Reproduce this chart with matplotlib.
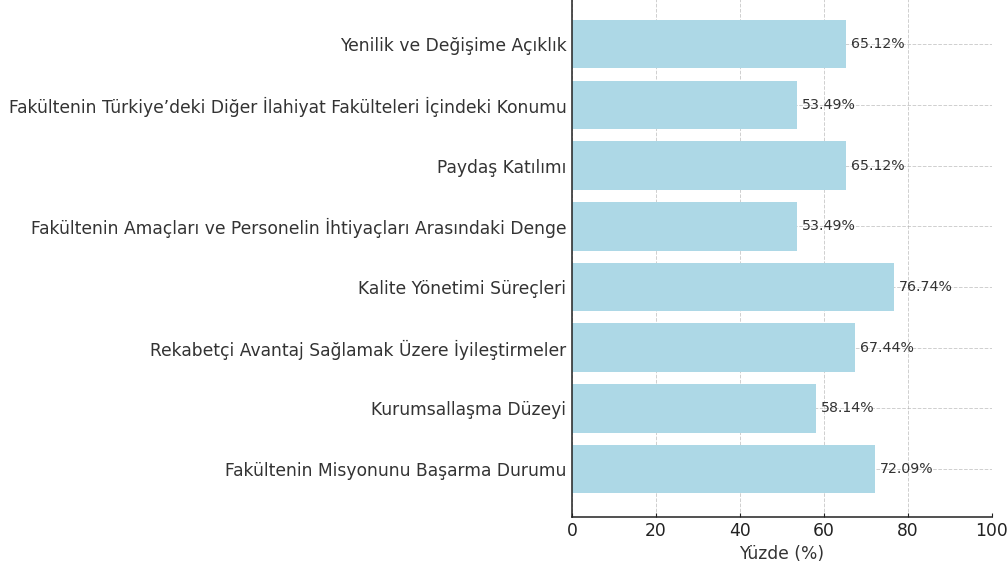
import matplotlib
matplotlib.use('Agg')
import matplotlib.pyplot as plt

plt.rcParams['font.family'] = ['DejaVu Sans']

# categories, bottom to top as drawn
categories = [
    'Fakültenin Misyonunu Başarma Durumu',
    'Kurumsallaşma Düzeyi',
    'Rekabetçi Avantaj Sağlamak Üzere İyileştirmeler',
    'Kalite Yönetimi Süreçleri',
    'Fakültenin Amaçları ve Personelin İhtiyaçları Arasındaki Denge',
    'Paydaş Katılımı',
    'Fakültenin Türkiye’deki Diğer İlahiyat Fakülteleri İçindeki Konumu',
    'Yenilik ve Değişime Açıklık',
]
percentages = [72.09, 58.14, 67.44, 76.74, 53.49, 65.12, 53.49, 65.12]
x_ticks = [0, 20, 40, 60, 80, 100]

text_col = '#333333'

fig = plt.figure(figsize=(10.08, 5.66), dpi=100)
ax = fig.add_axes([0.5675, 0.0866, 0.4166, 0.92])

bars = ax.barh(categories, percentages, color='lightblue', height=0.8, zorder=2)
for bar, val in zip(bars, percentages):
    ax.text(bar.get_width() + 1.2, bar.get_y() + bar.get_height() / 2,
            f'{val:.2f}%', va='center', ha='left', fontsize=10.2, color=text_col, zorder=3)

ax.set_xlim(0, 100)
ax.set_xticks(x_ticks)
ax.set_xlabel('Yüzde (%)', fontsize=12.3, color=text_col)
ax.tick_params(axis='both', labelsize=12.3, colors=text_col, direction='in', length=3, pad=4)
ax.tick_params(axis='x', colors='#222222', pad=3.5)
ax.grid(True, linestyle='--', color='#b0b0b0', alpha=0.6, linewidth=0.7, zorder=0)
ax.set_axisbelow(True)
ax.spines['top'].set_visible(False)
ax.spines['right'].set_visible(False)
for s in ['left', 'bottom']:
    ax.spines[s].set_color('#222222')
    ax.spines[s].set_linewidth(1.1)

fig.savefig('out.png', dpi=100)
